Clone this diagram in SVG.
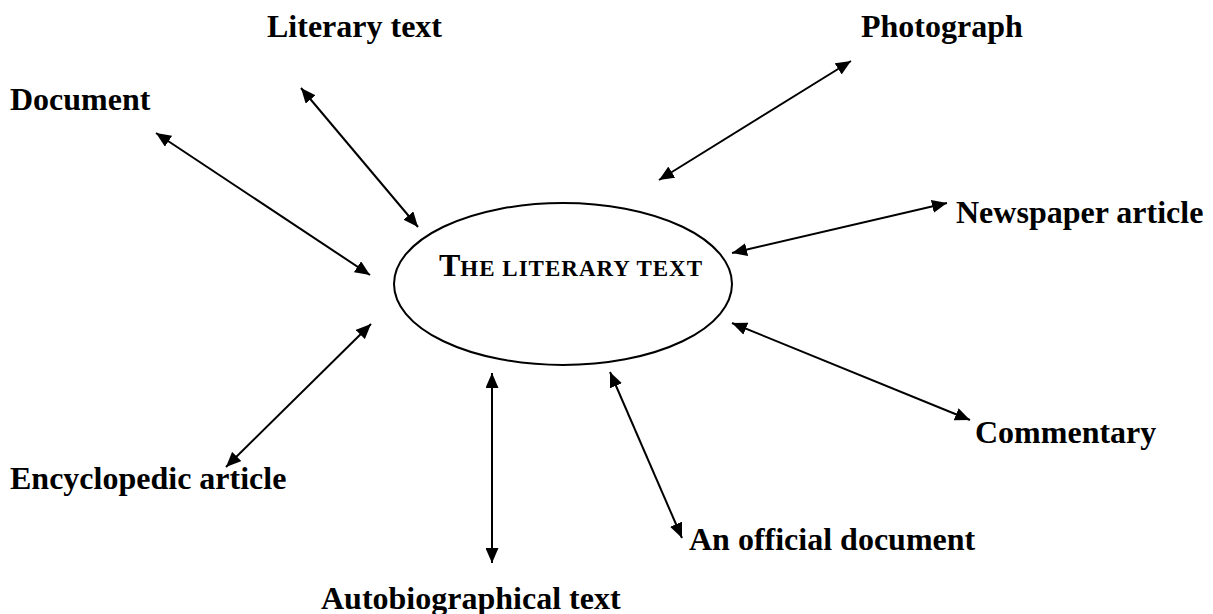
<svg xmlns="http://www.w3.org/2000/svg" width="1213" height="614" viewBox="0 0 1213 614">
<style>
.lbl{font-family:"Liberation Serif","Times New Roman",serif;font-weight:bold;font-size:32px;fill:#000}
.conn line{stroke:#000;stroke-width:2;marker-start:url(#ah);marker-end:url(#ah)}
</style>
<defs>
<marker id="ah" markerUnits="userSpaceOnUse" markerWidth="15" markerHeight="13" refX="15" refY="6.5" orient="auto-start-reverse">
<path d="M0,0 L15,6.5 L0,13 z" fill="#000"/>
</marker>
</defs>
<rect width="1213" height="614" fill="#fff"/>
<g id="center">
<ellipse cx="563" cy="284" rx="169" ry="81" fill="none" stroke="#000" stroke-width="2"/>
<text class="lbl" x="439" y="276"><tspan>T</tspan><tspan font-size="23" letter-spacing="1">HE LITERARY TEXT</tspan></text>
</g>
<g id="n-literary"><text class="lbl" x="267" y="37">Literary text</text></g>
<g id="n-photo"><text class="lbl" x="861" y="37">Photograph</text></g>
<g id="n-document"><text class="lbl" x="10" y="110">Document</text></g>
<g id="n-newspaper"><text class="lbl" x="956" y="223">Newspaper article</text></g>
<g id="n-commentary"><text class="lbl" x="975" y="443">Commentary</text></g>
<g id="n-encyclopedic"><text class="lbl" x="10" y="489">Encyclopedic article</text></g>
<g id="n-official"><text class="lbl" x="689" y="550">An official document</text></g>
<g id="n-autobio"><text class="lbl" x="321" y="609">Autobiographical text</text></g>
<g class="conn" id="connectors">
<line x1="156" y1="133" x2="370" y2="275"/>
<line x1="301" y1="88" x2="418" y2="227"/>
<line x1="851" y1="61" x2="659" y2="180"/>
<line x1="947" y1="203" x2="732" y2="253"/>
<line x1="732" y1="323" x2="970" y2="420"/>
<line x1="371" y1="324" x2="226" y2="467"/>
<line x1="492" y1="373" x2="492" y2="563"/>
<line x1="610" y1="372" x2="682" y2="538"/>
</g>
</svg>
